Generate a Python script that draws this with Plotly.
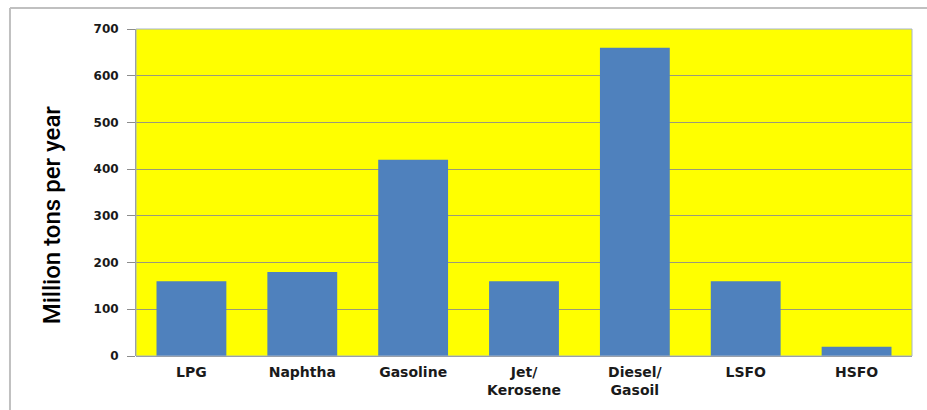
import plotly.graph_objects as go

categories = ["LPG", "Naphtha", "Gasoline", "Jet/<br>Kerosene", "Diesel/<br>Gasoil", "LSFO", "HSFO"]
values = [160, 180, 420, 160, 660, 160, 20]
y_ticks = [0, 100, 200, 300, 400, 500, 600, 700]

fig = go.Figure(go.Bar(x=categories, y=values, marker=dict(color="#4F81BD", line=dict(width=0))))

fig.update_layout(
    width=927, height=410,
    margin=dict(l=136, r=15, t=29, b=54),
    paper_bgcolor="white",
    plot_bgcolor="#FFFF00",
    bargap=0.37,
    showlegend=False,
    font=dict(family="DejaVu Sans", color="#1a1a1a"),
    shapes=[
        dict(type="line", xref="paper", yref="paper", x0=-0.1624, x1=1.02, y0=1.064, y1=1.064,
             line=dict(color="#c0c0c0", width=2)),
        dict(type="line", xref="paper", yref="paper", x0=-0.1624, x1=-0.1624, y0=1.064, y1=-0.2,
             line=dict(color="#c0c0c0", width=2)),
    ],
    annotations=[
        dict(text="Million tons per year", xref="paper", yref="paper", x=-0.108, y=0.431,
             textangle=-90, showarrow=False, xanchor="center", yanchor="middle",
             font=dict(family="Roboto", size=24, color="black", weight=500)),
    ],
)
fig.update_xaxes(
    tickfont=dict(family="DejaVu Sans", size=14, color="#1a1a1a", weight="bold"),
    showline=False, showgrid=False, ticks="outside", ticklen=3, tickcolor="rgba(0,0,0,0)",
    mirror=False, automargin=False,
)
fig.update_yaxes(
    range=[0, 700], tickvals=y_ticks,
    tickfont=dict(family="DejaVu Sans", size=12, color="#1a1a1a", weight="bold"),
    showgrid=True, gridcolor="#9a9a7a", gridwidth=1,
    showline=True, linecolor="#8c8c8c", linewidth=1,
    ticks="outside", ticklen=8, tickcolor="#8c8c8c", ticklabelstandoff=6,
    zeroline=True, zerolinecolor="#8c8c8c", zerolinewidth=1, automargin=False,
)
fig.add_shape(type="rect", xref="paper", yref="paper", x0=0, x1=1, y0=0, y1=1,
              line=dict(color="#a6b4c8", width=1), layer="above")

fig.write_html("out.html")
